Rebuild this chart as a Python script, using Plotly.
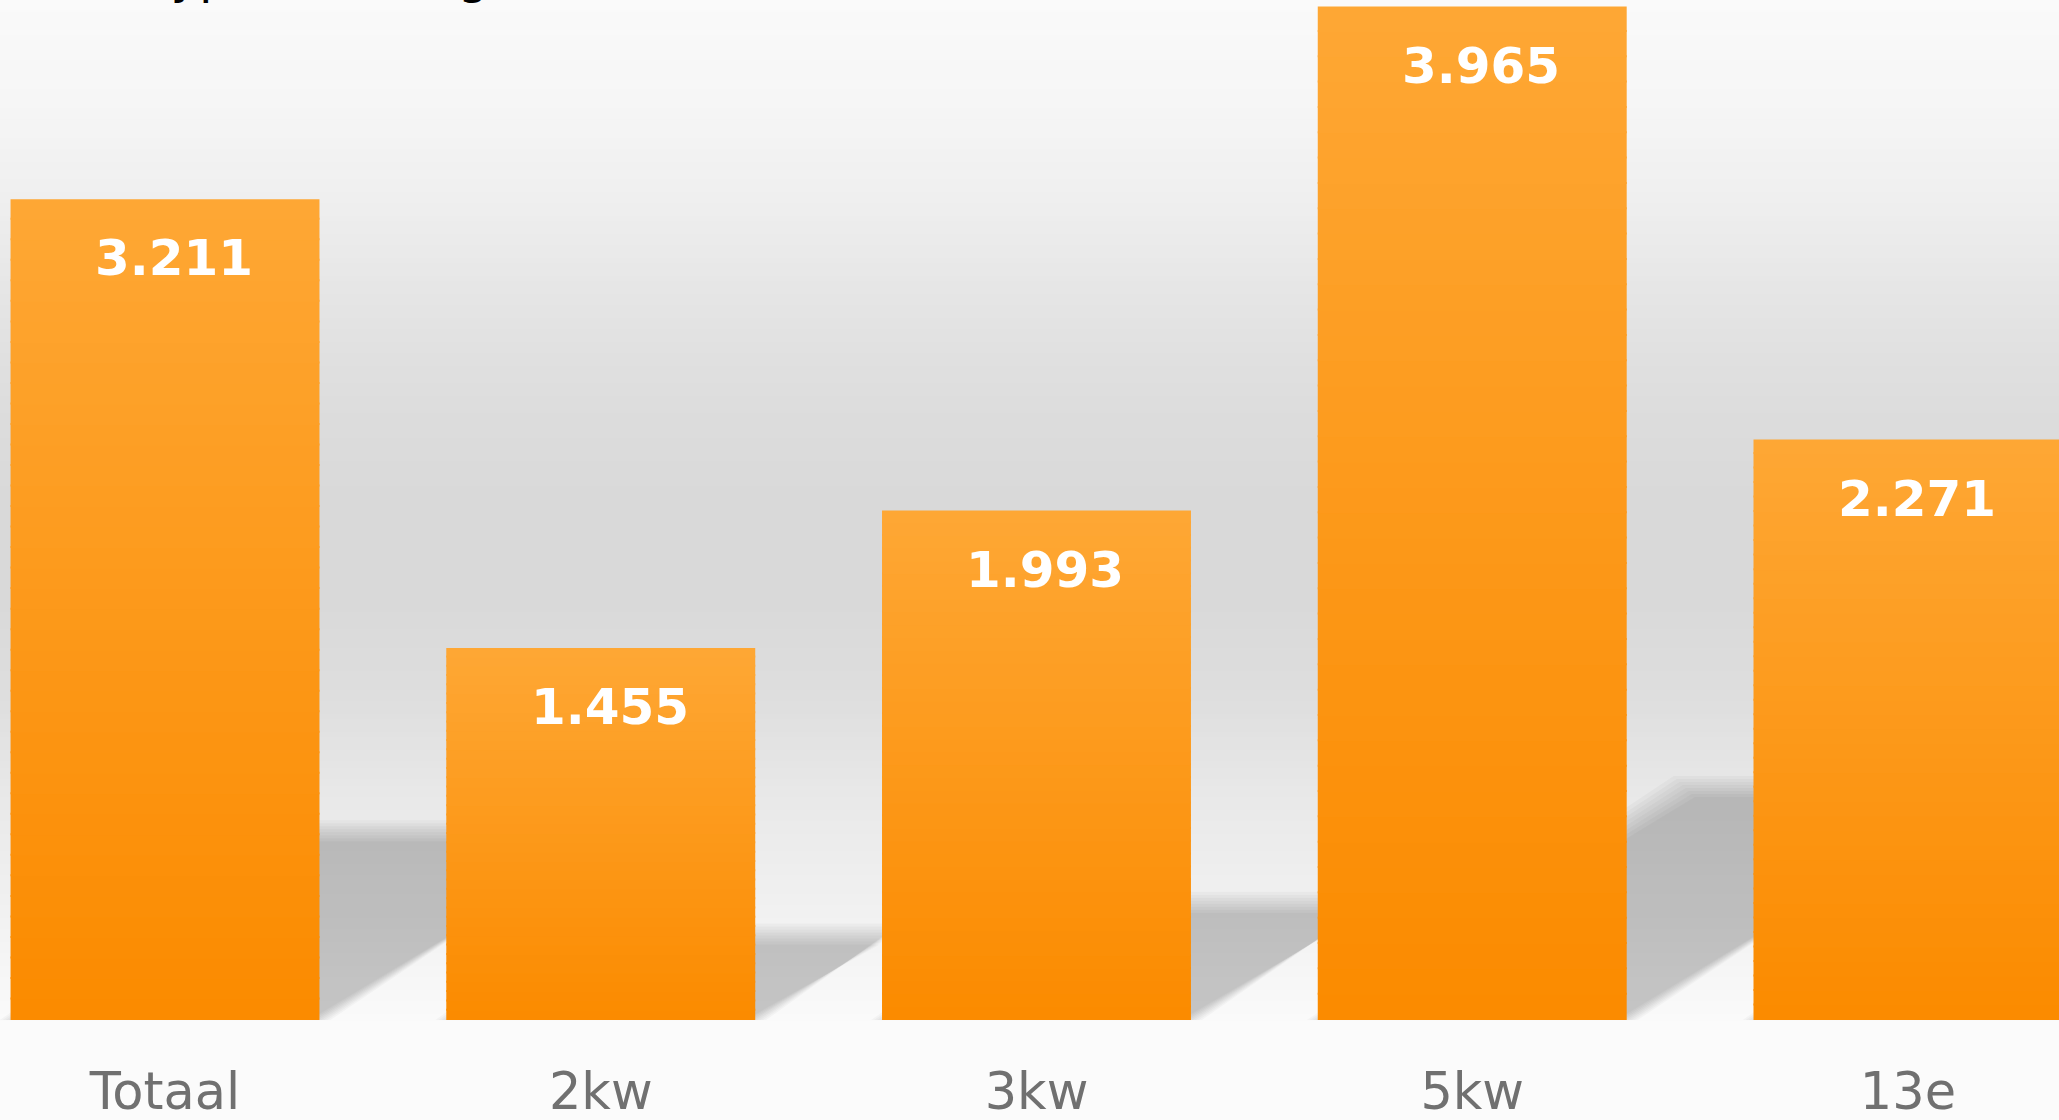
import plotly.graph_objects as go

# ---------------- data ----------------
categories = ["Totaal", "2kw", "3kw", "5kw", "13e"]
values = [3211, 1455, 1993, 3965, 2271]
value_labels = ["3.211", "1.455", "1.993", "3.965", "2.271"]
title_text = "Typen vermogen"

# ---------------- geometry / style ----------------
W, H = 2059, 1120
PLOT_H = 1020
x_range = [-0.3787, 4.3466]
y_range = [0, 3990.6]
px_per_x = W / (x_range[1] - x_range[0])
px_per_y = PLOT_H / (y_range[1] - y_range[0])
bar_w = 0.709
xs = list(range(len(categories)))

FONT = "DejaVu Sans"


def lerp(c1, c2, t):
    return tuple(round(a + (b - a) * t) for a, b in zip(c1, c2))


def rgb(c):
    return "rgb(%d,%d,%d)" % c


fig = go.Figure()

# ---- bars with vertical gradient (stacked, slightly overlapping segments) ----
N = 40
bottom_col = (251, 139, 0)
top_col = (254, 167, 52)
overlap = 2.0 / px_per_y  # 2 px overlap hides anti-aliasing seams
for k in range(N):
    t = k / (N - 1)
    bases = [v * k / N for v in values]
    tops = [min(v * (k + 1) / N + overlap, v) for v in values]
    fig.add_trace(go.Bar(
        x=xs,
        y=[tp - b for tp, b in zip(tops, bases)],
        base=bases,
        width=bar_w,
        marker=dict(color=rgb(lerp(bottom_col, top_col, t)), line=dict(width=0)),
        hoverinfo="skip",
        showlegend=False,
    ))

shapes = []

# ---- background vertical gradient (paper coordinates) ----
stops = [(0, 250), (100, 246), (200, 239), (300, 229), (400, 221), (500, 217),
         (600, 217), (700, 222), (800, 233), (900, 240), (960, 245), (1020, 250)]


def gray_at(py):
    for (y0, g0), (y1, g1) in zip(stops[:-1], stops[1:]):
        if y0 <= py <= y1:
            return g0 + (g1 - g0) * (py - y0) / (y1 - y0)
    return stops[-1][1]


step = 6
for py in range(0, PLOT_H, step):
    g = round(gray_at(py + step / 2))
    shapes.append(dict(
        type="rect", xref="paper", yref="paper", layer="below",
        x0=0, x1=1,
        y0=1 - (py + step + 0.5) / PLOT_H, y1=1 - (py - 0.5) / PLOT_H,
        fillcolor="rgb(%d,%d,%d)" % (g, g, g), line=dict(width=0),
    ))

# ---- skewed floor shadows, derived from each bar's value ----
s_h = 0.23  # shadow height as fraction of bar height
offsets = [11, 8, 5, 2, -1, -4, -7, -10]
for xi, v in zip(xs, values):
    h_px = v * px_per_y
    shift_px = 0.362 * h_px
    for d in offsets:
        dx = d / px_per_x
        dy = d / px_per_y
        xl = xi - bar_w / 2
        xr = xi + bar_w / 2
        sx = shift_px / px_per_x
        top = s_h * v + dy
        pts = [(xl - dx, 0), (xr + dx, 0), (xr + sx + dx, top), (xl + sx - dx, top)]
        path = "M " + " L ".join("%f,%f" % p for p in pts) + " Z"
        shapes.append(dict(
            type="path", xref="x", yref="y", layer="below", path=path,
            fillcolor="rgba(0,0,0,0.027)", line=dict(width=0),
        ))

annotations = []
# ---- value labels inside the bars ----
for xi, v, lab in zip(xs, values, value_labels):
    annotations.append(dict(
        x=xi, y=v, xref="x", yref="y", text=lab, showarrow=False,
        xanchor="center", yanchor="middle", xshift=9, yshift=-59,
        font=dict(family=FONT, size=50, color="white", weight="bold"),
    ))

# ---- (cropped) title at top ----
annotations.append(dict(
    x=146 / W, y=1, xref="paper", yref="paper", text=title_text, showarrow=False,
    xanchor="left", yanchor="bottom", yshift=-6,
    font=dict(family=FONT, size=48, color="black"),
))

fig.update_layout(
    width=W, height=H,
    margin=dict(l=0, r=0, t=0, b=H - PLOT_H, pad=0, autoexpand=False),
    paper_bgcolor="#fbfbfb",
    plot_bgcolor="rgba(0,0,0,0)",
    barmode="overlay",
    shapes=shapes,
    annotations=annotations,
    showlegend=False,
    xaxis=dict(
        range=x_range, tickmode="array", tickvals=xs, ticktext=categories,
        showgrid=False, zeroline=False, showline=False, ticks="",
        tickfont=dict(family=FONT, size=51, color="#707070"),
        ticklabelstandoff=37, fixedrange=True, automargin=False,
    ),
    yaxis=dict(
        range=y_range, visible=False, showgrid=False, zeroline=False,
        fixedrange=True, automargin=False,
    ),
)

fig.write_html(
    "out.html",
    config={"displayModeBar": False},
    post_script="document.body.style.margin='0';document.body.style.overflow='hidden';",
)
